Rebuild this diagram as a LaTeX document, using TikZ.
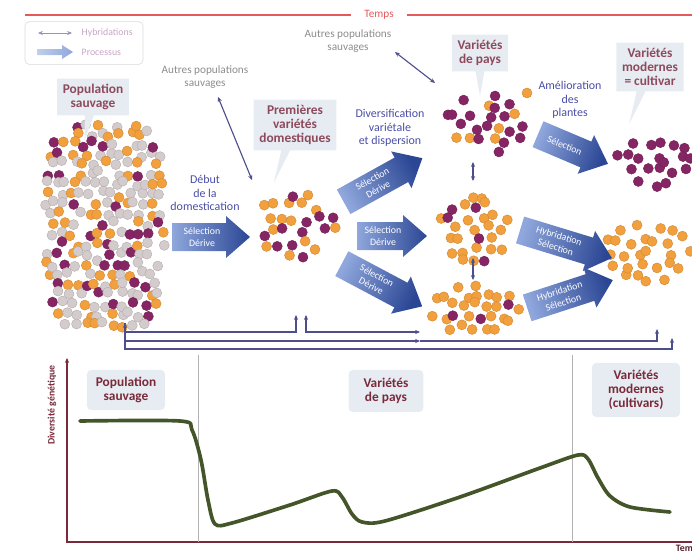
\documentclass[tikz,border=0pt]{standalone}
\usepackage{fontspec}
\setmainfont{Carlito}
\usetikzlibrary{arrows.meta,positioning,shapes.callouts}

\definecolor{titlecol}{HTML}{8E4A5C}
\definecolor{chartcol}{HTML}{7A2A3A}
\definecolor{procblue}{HTML}{4A4EA6}
\definecolor{softgray}{HTML}{8C8C8C}
\definecolor{tempsred}{HTML}{E25A5A}
\definecolor{legendcol}{HTML}{C7A6C4}
\definecolor{hybcol}{HTML}{4D4F8C}
\definecolor{arrowdark}{HTML}{2B4694}
\definecolor{arrowlight}{HTML}{8FA7DC}
\definecolor{boxfill}{HTML}{E6ECF1}
\definecolor{dotorange}{HTML}{F2A03D}
\definecolor{dotpurple}{HTML}{862564}
\definecolor{dotgray}{HTML}{D4CCCC}
\definecolor{curvecol}{HTML}{45552A}

\tikzset{
  ttl/.style={rectangle callout, fill=boxfill, align=center, text=titlecol,
              font=\fontsize{9.5}{10}\selectfont\bfseries, inner xsep=4pt,
              inner ysep=4pt, callout pointer width=0.22cm},
  chartbox/.style={fill=boxfill, rounded corners=3pt, align=center,
                   text=chartcol, font=\fontsize{9.5}{10}\selectfont\bfseries,
                   inner sep=3pt},
  grytxt/.style={align=center, text=softgray, font=\fontsize{8}{9}\selectfont,
                 inner sep=1pt},
  bluetxt/.style={align=center, text=procblue,
                  font=\fontsize{8.5}{9.5}\selectfont, inner sep=1pt},
  proctext/.style={align=center, text=white, font=\fontsize{7}{8.5}\selectfont,
                   inner sep=0pt},
  legtxt/.style={text=legendcol, font=\fontsize{7}{8}\selectfont, inner sep=1pt},
  hyb/.style={draw=hybcol, line width=0.8pt, <->},
  back/.style={draw=hybcol, line width=0.8pt},
  tempsline/.style={draw=tempsred, line width=1.3pt},
  curve/.style={draw=curvecol, line width=2.6pt, line cap=round,
                line join=round},
  axisline/.style={draw=chartcol, line width=0.8pt},
  sepline/.style={draw=black!30, line width=0.5pt},
}

\def\dotrad{0.125cm}

% cloud of seeds: cx, cy, rx, ry, step, p(gray), p(gray+orange), keep, power
\newcommand{\dotcloud}[9]{%
  \pgfmathtruncatemacro{\dcnx}{2*#3/#5}%
  \pgfmathtruncatemacro{\dcny}{2*#4/#5}%
  \foreach \i in {0,...,\dcnx} {
    \foreach \j in {0,...,\dcny} {
      \pgfmathsetmacro{\dcx}{-#3+\i*#5+0.5*#5*mod(\j,2)+0.35*#5*rand}
      \pgfmathsetmacro{\dcy}{-#4+\j*#5+0.35*#5*rand}
      \pgfmathsetmacro{\dcin}{(abs(\dcx/#3))^#9+(abs(\dcy/#4))^#9}
      \pgfmathsetmacro{\dckeep}{rnd}
      \pgfmathsetmacro{\dcpick}{rnd}
      \ifdim\dcin pt<1pt \ifdim\dckeep pt<#8pt
        \ifdim\dcpick pt<#6pt \def\dccol{dotgray}\else
          \ifdim\dcpick pt<#7pt \def\dccol{dotorange}\else
            \def\dccol{dotpurple}\fi\fi
        \path[fill=\dccol, draw=\dccol!85!black, line width=0.3pt]
          (#1+\dcx,#2+\dcy) circle (\dotrad);
      \fi\fi
    }
  }}

% process arrow: name, cx, cy, angle, length, text
\newcommand{\procarrow}[6]{%
  \begin{scope}[shift={(#2,#3)}, rotate=#4]
    \pgfmathsetmacro{\pahalf}{#5/2}
    \pgfmathsetmacro{\paneck}{#5/2-24}
    \pgfmathsetmacro{\pashade}{90+#4}
    \shade[left color=arrowlight, right color=arrowdark, shading angle=\pashade]
      (-\pahalf,-14) -- (\paneck,-14) -- (\paneck,-21) -- (\pahalf,0)
      -- (\paneck,21) -- (\paneck,14) -- (-\pahalf,14) -- cycle;
    \node[proctext, rotate=#4] (#1) at ({(\paneck-\pahalf)/2+3},0) {#6};
  \end{scope}}

\begin{document}
\begin{tikzpicture}[x=0.025cm, y=-0.025cm, >={Stealth[length=3.5pt,width=3pt]}]
\useasboundingbox (0,0) rectangle (692,553);

% time line
\node[text=tempsred, font=\fontsize{8}{9}\selectfont, inner xsep=9pt]
  (tempstop) at (379,15) {Temps};
\draw[tempsline] (25,15) -- (tempstop.west);
\draw[tempsline] (tempstop.east) -- (692,15);

% legend
\node[draw=black!15, rounded corners=3pt, minimum width=2.95cm,
      minimum height=1.07cm] (legend) at (84,43) {};
\coordinate (hybl) at (38,33);
\coordinate (hybr) at (72,33);
\draw[hyb, draw=hybcol!60, line width=0.6pt] (hybl) -- (hybr);
\node[legtxt, anchor=west] (hyblbl) at (80,33) {Hybridations};
\shade[left color=arrowlight!55, right color=arrowlight]
  (37,49) -- (62,49) -- (62,45) -- (73,52) -- (62,59) -- (62,55) -- (37,55)
  -- cycle;
\node[legtxt, anchor=west] (proclbl) at (80,52) {Processus};

% seeds
\pgfmathsetseed{42}
\dotcloud{105}{227}{60}{103}{10}{0.5}{0.82}{0.92}{4}
\dotcloud{297}{226}{43}{33}{13}{0}{0.5}{0.9}{2}
\dotcloud{486}{123}{42}{31}{12}{0}{0.25}{0.92}{2}
\dotcloud{474}{229}{36}{34}{11}{0}{0.9}{0.85}{2}
\dotcloud{474}{309}{45}{25}{11}{0}{0.93}{0.95}{2}
\dotcloud{656}{161}{40}{28}{13}{0}{0}{1}{2}
\dotcloud{648}{250}{44}{36}{13}{0}{1.1}{0.9}{2}
\path[fill=dotorange, draw=dotorange!85!black, line width=0.3pt]
  (527,93) circle (\dotrad);

% titles
\node[ttl, callout relative pointer={(-0.12cm,-0.62cm)}] (wildttl) at (93,97)
  {Population\\sauvage};
\node[ttl, callout relative pointer={(-0.3cm,-0.82cm)}] (domttl) at (295,125)
  {Premières\\variétés\\domestiques};
\node[ttl, callout relative pointer={(0cm,-0.62cm)}] (paysttl) at (480,53)
  {Variétés\\de pays};
\node[ttl, callout relative pointer={(-0.3cm,-0.82cm)}] (modttl) at (650,67)
  {Variétés\\modernes\\= cultivar};

\node[grytxt] (autres1) at (205,77) {Autres populations\\sauvages};
\node[grytxt] (autres2) at (348,41) {Autres populations\\sauvages};
\node[bluetxt] (debut) at (205,193) {Début\\de la\\domestication};
\node[bluetxt] (divers) at (390,128) {Diversification\\variétale\\et dispersion};
\node[bluetxt] (amelio) at (570,100) {Amélioration\\des\\plantes};

% processes
\procarrow{selA}{211}{237}{0}{78}{Sélection\\Dérive}
\procarrow{selB}{383}{180}{29}{90}{Sélection\\Dérive}
\procarrow{selC}{392}{236}{0}{70}{Sélection\\Dérive}
\procarrow{selD}{382}{285}{-28}{91}{Sélection\\Dérive}
\procarrow{selE}{573}{149}{-23}{76}{Sélection}
\procarrow{hybA}{566}{244}{-17}{96}{Hybridation\\Sélection}
\procarrow{hybB}{570}{294}{18}{90}{Hybridation\\Sélection}

% hybridations
\coordinate (h1a) at (218,97);
\coordinate (h1b) at (252,180);
\coordinate (h2a) at (395,52);
\coordinate (h2b) at (435,83);
\coordinate (h3a) at (473,162);
\coordinate (h3b) at (473,181);
\coordinate (h4a) at (473,258);
\coordinate (h4b) at (473,280);
\draw[hyb] (h1a) -- (h1b);
\draw[hyb] (h2a) -- (h2b);
\draw[hyb] (h3a) -- (h3b);
\draw[hyb] (h4a) -- (h4b);

% back crossings
\coordinate (wildin) at (125,323);
\coordinate (domin1) at (296,315);
\coordinate (domin2) at (306,315);
\coordinate (lowin) at (420,332);
\coordinate (lowin2) at (420,341);
\coordinate (modin1) at (657,329);
\coordinate (modin2) at (672,338);
\draw[back, <->] (wildin) -- ++(0,9) -| (domin1);
\draw[back, <->] (domin2) |- (lowin);
\draw[back, ->] (wildin) |- (lowin2);
\draw[back, ->] (lowin2) -| (modin1);
\draw[back, ->] (wildin) -- ++(0,26) -| (modin2);

% diversity chart
\coordinate (orig) at (67,542);
\coordinate (ytop) at (67,358);
\coordinate (xend) at (692,542);
\draw[axisline, <-] (ytop) -- (orig) -- (xend);
\node[rotate=90, text=chartcol, font=\fontsize{7}{8}\selectfont\bfseries]
  (ylbl) at (52,405) {Diversité génétique};
\node[anchor=west, text=chartcol!70!black, font=\fontsize{7}{8}\selectfont\bfseries]
  (xlbl) at (671,549) {Temps};
\coordinate (sepa) at (198,355);
\coordinate (sepb) at (572,355);
\draw[sepline] (sepa) -- (sepa |- orig);
\draw[sepline] (sepb) -- (sepb |- orig);

\node[chartbox, minimum width=1.95cm, minimum height=1cm] (cwild)
  at (126,390) {Population\\sauvage};
\node[chartbox, minimum width=1.87cm, minimum height=1.05cm] (cpays)
  at (386,391) {Variétés\\de pays};
\node[chartbox, minimum width=2.2cm, minimum height=1.35cm] (cmod)
  at (636,390) {Variétés\\modernes\\(cultivars)};

\draw[curve] plot[smooth, tension=0.5] coordinates {
  (80,421) (180,421) (192,430) (201,460) (208,500) (215,524) (232,523)
  (290,505) (332,491) (342,497) (352,514) (362,522) (385,521) (460,497)
  (540,468) (578,455) (588,459) (598,478) (610,496) (630,507) (670,512)};

\end{tikzpicture}
\end{document}
